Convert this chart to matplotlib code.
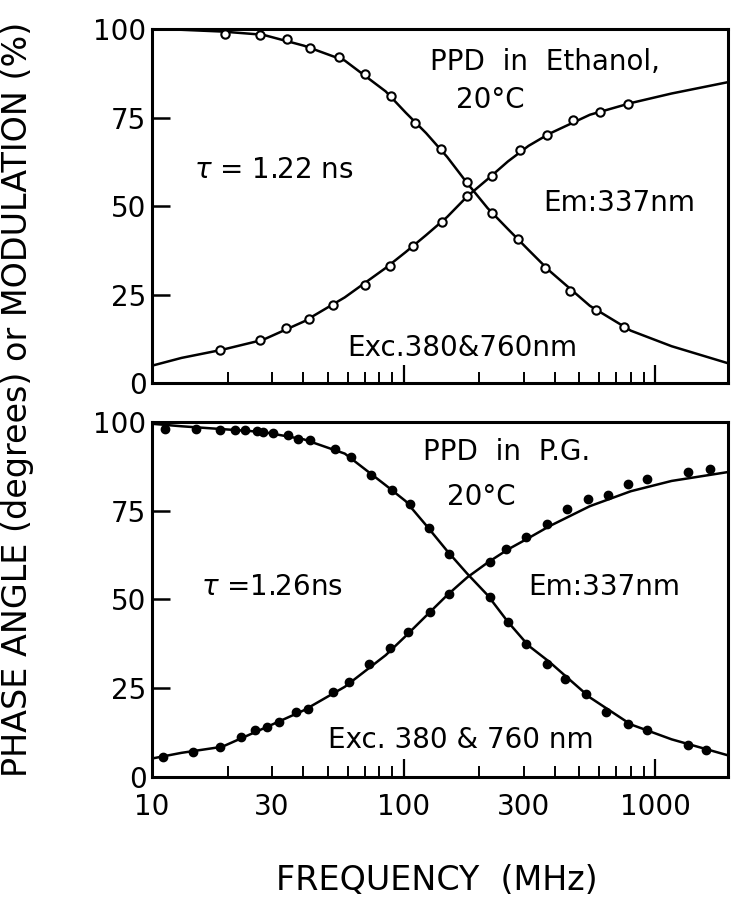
import matplotlib
matplotlib.use("Agg")
import matplotlib.pyplot as plt
from matplotlib.ticker import FixedLocator, NullFormatter

# ---- top panel: PPD in ethanol (open circles) ----
top_mod_f = [19.5, 26.9, 34.3, 42.5, 55.4, 70.6, 89.4, 111, 141, 178, 224, 286, 365, 461, 582, 750]
top_mod_v = [98.6, 98.4, 97.3, 94.6, 92.1, 87.4, 81.0, 73.4, 66.1, 56.7, 48.0, 40.7, 32.5, 26.1, 20.5, 15.8]
top_ph_f = [18.7, 26.9, 34.1, 42.2, 52.6, 70.3, 88.0, 109, 142, 179, 224, 290, 371, 472, 606, 778]
top_ph_v = [9.2, 12.2, 15.5, 18.1, 22.1, 27.8, 33.0, 38.8, 45.5, 52.7, 58.6, 65.7, 70.2, 74.2, 76.7, 78.9]

# ---- bottom panel: PPD in propylene glycol (filled circles) ----
bot_mod_f = [11.3, 14.9, 18.7, 21.3, 23.4, 26.1, 27.6, 30.4, 34.6, 38.0, 42.5, 53.2, 61.8, 74.4, 89.7,
             106, 126, 151, 220, 261, 308, 371, 440, 530, 638, 784, 928, 1349, 1596]
bot_mod_v = [98.1, 98.1, 97.8, 97.8, 97.7, 97.5, 97.2, 96.9, 96.2, 95.3, 94.8, 92.5, 90.1, 85.0, 80.8,
             77.0, 70.0, 62.9, 50.7, 43.7, 37.6, 31.9, 27.7, 23.5, 18.3, 15.0, 13.1, 8.9, 7.5]
bot_ph_f = [11.1, 14.6, 18.7, 22.5, 25.6, 28.7, 32.1, 37.3, 41.7, 52.2, 60.6, 73.1, 88.1, 104,
            128, 151, 220, 255, 308, 371, 448, 540, 650, 784, 928, 1349, 1656]
bot_ph_v = [5.6, 7.0, 8.5, 11.3, 13.1, 14.1, 15.5, 18.3, 19.2, 23.9, 26.8, 31.9, 36.2, 40.8,
            46.5, 51.6, 60.6, 64.3, 67.6, 71.4, 75.6, 78.4, 79.3, 82.6, 84.0, 85.9, 86.9]

# ---- fitted curves ----
curve_f = [10, 13.1, 19.0, 27.6, 40.2, 58.4, 84.9, 102, 123, 149, 179, 216, 260, 314, 379, 551, 801, 1164, 1949]
top_fit_ph = [4.9, 7.1, 9.4, 12.2, 17.4, 24.2, 32.5, 37.0, 41.8, 46.9, 52.7, 57.6, 62.6, 67.0, 70.4,
              75.8, 79.1, 81.8, 85.0]
top_fit_mod = [100.0, 99.8, 99.3, 98.4, 95.3, 91.1, 82.4, 76.4, 70.6, 63.9, 56.5, 49.4, 43.5, 37.6, 31.8,
               21.8, 14.8, 10.4, 5.6]
bot_fit_ph = [5.2, 6.8, 8.5, 13.6, 18.8, 25.4, 34.3, 39.7, 45.4, 51.2, 56.2, 60.4, 64.1, 67.3, 70.6,
              76.3, 80.5, 83.4, 85.9]
bot_fit_mod = [99.5, 98.8, 98.0, 97.2, 95.1, 91.1, 82.2, 77.7, 70.9, 63.7, 57.3, 51.2, 43.7, 37.0, 32.5,
               22.4, 14.8, 10.6, 6.1]

x_ticks = [10, 30, 100, 300, 1000]
x_minor = [20, 30, 40, 50, 60, 70, 80, 90, 200, 300, 400, 500, 600, 700, 800, 900]
y_ticks = [0, 25, 50, 75, 100]

fs = 20

fig = plt.figure(figsize=(7.39, 9.0), dpi=100)
ax1 = fig.add_axes([0.2057, 0.5744, 0.7794, 0.3933])
ax2 = fig.add_axes([0.2057, 0.1367, 0.7794, 0.3944])


def style(ax, show_x):
    ax.set_xscale('log')
    ax.set_xlim(10, 1950)
    ax.set_ylim(0, 100)
    for s in ax.spines.values():
        s.set_linewidth(2.2)
    ax.xaxis.set_major_locator(FixedLocator([100, 1000]))
    ax.xaxis.set_minor_locator(FixedLocator(x_minor))
    ax.xaxis.set_minor_formatter(NullFormatter())
    ax.xaxis.set_major_formatter(NullFormatter())
    ax.tick_params(axis='x', which='major', direction='in', length=13, width=1.6, top=False)
    ax.tick_params(axis='x', which='minor', direction='in', length=8, width=1.4, top=False)
    ax.set_yticks(y_ticks)
    ax.set_yticklabels([str(v) for v in y_ticks], fontsize=fs)
    ax.tick_params(axis='y', direction='in', length=13, width=1.8, pad=4, right=False)
    if show_x:
        for f in x_ticks:
            ax.text(f, -0.045, str(f), ha='center', va='top', fontsize=fs,
                    transform=ax.get_xaxis_transform())


style(ax1, False)
style(ax2, True)

ax1.plot(curve_f, top_fit_ph, color='black', lw=1.8)
ax1.plot(curve_f, top_fit_mod, color='black', lw=1.8)
ax1.plot(top_mod_f, top_mod_v, 'o', ms=6, mfc='white', mec='black', mew=1.5)
ax1.plot(top_ph_f, top_ph_v, 'o', ms=6, mfc='white', mec='black', mew=1.5)

ax2.plot(curve_f, bot_fit_ph, color='black', lw=1.8)
ax2.plot(curve_f, bot_fit_mod, color='black', lw=1.8)
ax2.plot(bot_mod_f, bot_mod_v, 'o', ms=6, color='black')
ax2.plot(bot_ph_f, bot_ph_v, 'o', ms=6, color='black')

ax1.text(365, 90.7, "PPD  in  Ethanol,", ha='center', va='center', fontsize=fs)
ax1.text(221, 80, "20°C", ha='center', va='center', fontsize=fs)
ax1.text(30.5, 60.2, "$\\tau$ = 1.22 ns", ha='center', va='center', fontsize=fs)
ax1.text(719, 50.8, "Em:337nm", ha='center', va='center', fontsize=fs)
ax1.text(171, 9.9, "Exc.380&760nm", ha='center', va='center', fontsize=fs)

ax2.text(256, 91.5, "PPD  in  P.G.", ha='center', va='center', fontsize=fs)
ax2.text(204, 78.9, "20°C", ha='center', va='center', fontsize=fs)
ax2.text(30, 53.5, "$\\tau$ =1.26ns", ha='center', va='center', fontsize=fs)
ax2.text(627, 53.5, "Em:337nm", ha='center', va='center', fontsize=fs)
ax2.text(169, 10.4, "Exc. 380 & 760 nm", ha='center', va='center', fontsize=fs)

fig.text(0.591, 0.022, "FREQUENCY  (MHz)", ha='center', va='center', fontsize=24)
fig.text(0.024, 0.556, "PHASE ANGLE (degrees) or MODULATION (%)", rotation=90,
         ha='center', va='center', fontsize=24)

fig.savefig("out.png", dpi=100)
